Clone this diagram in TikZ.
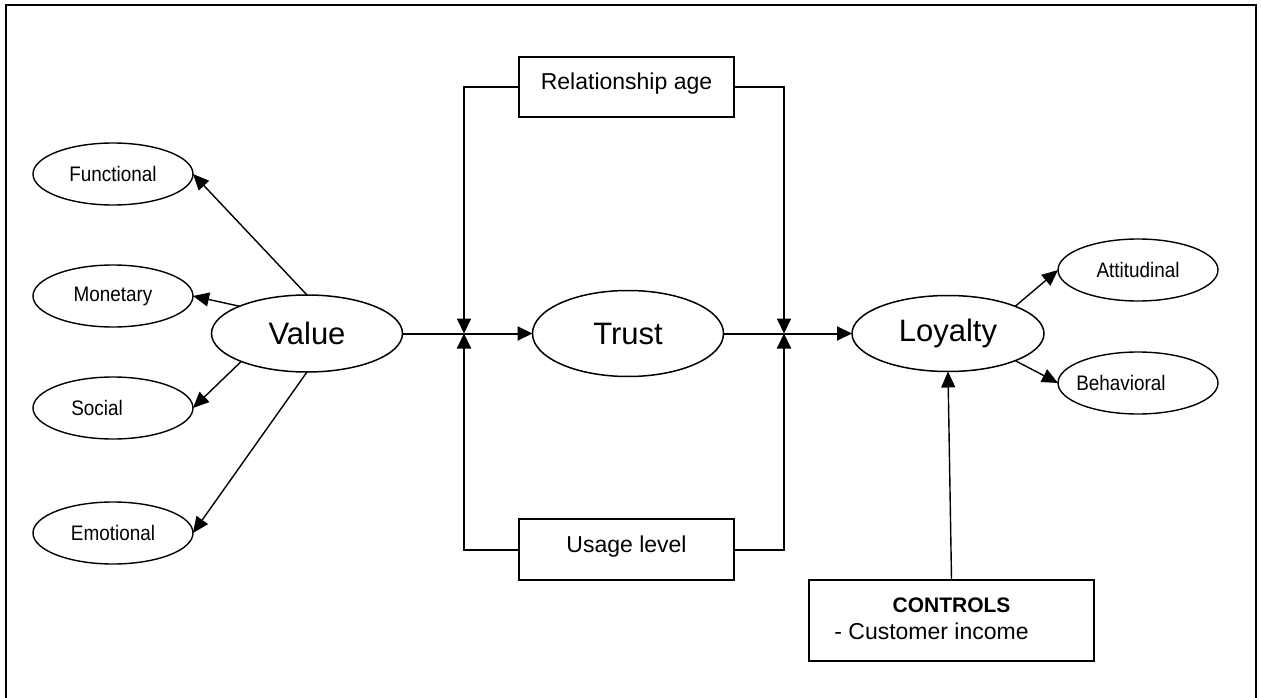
\documentclass[tikz,border=0pt]{standalone}
\usepackage{fontspec}
\setmainfont{Liberation Sans}
\newfontfamily\narfont[FakeStretch=0.9]{Liberation Sans}
\usetikzlibrary{shapes.geometric,arrows.meta}
\begin{document}
\begin{tikzpicture}[x=1pt,y=-1pt,
  subell/.style={ellipse,draw,line width=1.4pt,inner sep=0pt,outer sep=0pt,
    minimum width=160pt,minimum height=62pt,font=\narfont\fontsize{21}{24}\selectfont},
  mainell/.style={ellipse,draw,line width=1.5pt,inner sep=0pt,outer sep=0pt,
    minimum width=191pt,minimum height=77pt,font=\fontsize{31}{36}\selectfont},
  modbox/.style={rectangle,draw,line width=1.2pt,inner sep=0pt,
    minimum width=215pt,minimum height=60pt,text height=16pt,text depth=10pt,
    font=\fontsize{23}{27}\selectfont},
  ctlbox/.style={rectangle,draw,line width=2pt,inner sep=0pt,
    minimum width=285pt,minimum height=81pt,font=\fontsize{23}{27}\selectfont},
  conn/.style={line width=2pt},
  arr/.style={line width=2pt,-{Triangle[length=15pt,width=14pt]}},
  subarr/.style={line width=1.4pt,-{Triangle[length=16pt,width=14pt]}}
]
\useasboundingbox (0,0) rectangle (1261,698);
% frame
\draw[line width=2.5pt] (6,698) -- (6,5) -- (1256,5) -- (1256,698);

% ellipses
\node[subell] (fun) at (113,174) {Functional};
\node[subell] (mon) at (113,296) {Monetary};
\node[subell,label={[xshift=-16pt,font=\narfont\fontsize{21}{24}\selectfont]center:Social}] (soc) at (113,408) {};
\node[subell] (emo) at (113,533) {Emotional};
\node[mainell] (val) at (307,333.5) {Value};
\node[mainell,minimum height=86pt] (tru) at (628,333.5) {Trust};
\node[mainell,minimum width=192pt,minimum height=76pt] (loy) at (948,333.5) {Loyalty};
\node[subell] (att) at (1138,270) {Attitudinal};
\node[subell,label={[xshift=-17pt,font=\narfont\fontsize{21}{24}\selectfont]center:Behavioral}] (beh) at (1138,383) {};

% boxes
\node[modbox] (rel) at (626.5,87) {Relationship age};
\node[modbox,minimum height=61pt] (use) at (626.5,549.5) {Usage level};
\node[ctlbox] (ctl) at (951.5,620.5) {\begin{tabular}{@{}l@{}}\multicolumn{1}{@{}c@{}}{\fontsize{21}{27}\selectfont\bfseries CONTROLS}\\- Customer income\kern40pt\end{tabular}};

% junctions
\coordinate (j1) at (464,333.5);
\coordinate (j2) at (784,333.5);

% value to dimensions
\draw[subarr] (val.north) -- (fun.east);
\draw[subarr] (val.158) -- (mon.east);
\draw[subarr] (val.203) -- (soc.east);
\draw[subarr] (val.south) -- (emo.east);

% main chain
\draw[conn] (val.east) -- (j1);
\draw[arr] (j1) -- (tru.west);
\draw[conn] (tru.east) -- (j2);
\draw[arr] (j2) -- (loy.west);

% moderators
\draw[arr] (rel.west) -| (j1);
\draw[arr] (use.west) -| (j1);
\draw[arr] (rel.east) -| (j2);
\draw[arr] (use.east) -| (j2);

% loyalty dimensions
\draw[subarr] (loy.22) -- (att.west);
\draw[subarr] (loy.-22) -- (beh.west);

% controls
\draw[subarr] (ctl.north) -- (loy.south);
\end{tikzpicture}
\end{document}
